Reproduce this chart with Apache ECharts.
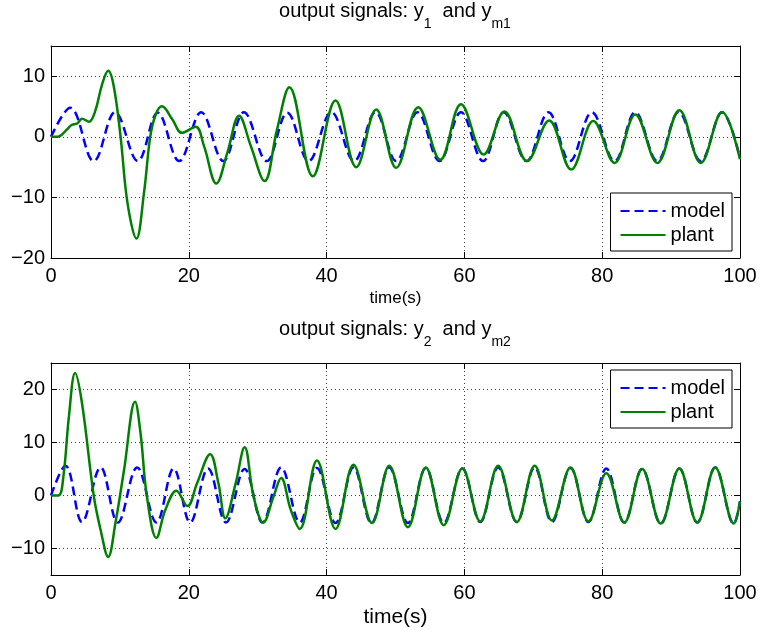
<!DOCTYPE html>
<html><head><meta charset="utf-8">
<script src="https://cdn.jsdelivr.net/npm/echarts@6/dist/echarts.min.js"></script>
<style>html,body{margin:0;padding:0;background:#fff}#c{width:761px;height:630px}</style>
</head><body><div id="c"></div>
<script>
// ---- data ----
const seriesNames = ['model', 'plant'];
const xLabel = 'time(s)';

// top panel: y_m1 (model) and y_1 (plant)
const tModel1 = [0, 2.8, 6.2, 9.3, 12.6, 15.5, 18.6, 21.8, 25.0, 28.0, 31.3, 34.3, 37.4, 40.7, 44.0, 47.1, 50.1, 53.2, 56.4, 59.5, 62.7, 65.7, 69.0, 72.2, 75.3, 78.5, 81.8, 84.8, 88.0, 91.1, 94.3, 97.4, 100];
const yModel1 = [0, 4.8, -4.0, 4.05, -4.0, 4.0, -4.0, 4.05, -4.0, 4.05, -4.0, 4.0, -4.0, 4.05, -4.0, 4.1, -4.0, 4.05, -4.0, 4.05, -4.0, 4.05, -4.0, 4.05, -4.0, 4.05, -4.0, 4.05, -4.0, 4.1, -4.0, 4.05, -3.5];
const tPlant1 = [0, 0.9, 1.6, 2.3, 3.05, 3.8, 4.5, 5.5, 6.4, 7.4, 8.3, 9.1, 10.1, 11.1, 12.4, 13.5, 14.4, 15.2, 16.1, 17.6, 19.0, 21.0, 22.2, 24.0, 25.6, 27.3, 29.0, 31.0, 32.8, 34.6, 38.0, 41.3, 44.3, 47.2, 50.1, 53.3, 56.5, 59.5, 62.8, 65.8, 69.1, 72.3, 75.5, 78.7, 81.8, 84.8, 88.0, 91.2, 94.3, 97.4, 100];
const yPlant1 = [0, 0, 0.4, 1.2, 2.0, 2.2, 3.0, 2.5, 4.2, 8.6, 10.9, 8.4, 0, -10.9, -16.8, -9.2, 0, 3.7, 5.05, 2.9, 0.66, 1.65, -1.5, -7.7, -2.6, 3.5, -1.5, -7.3, 1.2, 8.2, -6.5, 6.0, -5.0, 4.5, -5.1, 4.9, -3.8, 5.4, -2.9, 4.2, -4.0, 2.7, -5.4, 2.6, -4.3, 3.7, -4.3, 4.4, -4.3, 4.1, -3.7];

// bottom panel: y_m2 (model) and y_2 (plant)
const tModel2 = [0, 2.1, 4.5, 7.2, 9.7, 12.5, 15.3, 17.8, 20.2, 22.8, 25.4, 28.1, 30.7, 33.4, 36.1, 38.6, 41.3, 43.9, 46.5, 49.1, 51.8, 54.4, 57.0, 59.7, 62.3, 64.9, 67.6, 70.2, 72.7, 75.4, 78.0, 80.6, 83.2, 85.8, 88.5, 91.2, 93.8, 96.4, 99.1, 100];
const yModel2 = [0, 5.6, -5.0, 5.3, -5.1, 5.3, -5.1, 5.1, -5.1, 5.1, -5.1, 5.0, -5.1, 5.3, -5.1, 5.2, -5.2, 5.3, -5.2, 5.3, -5.2, 5.2, -5.2, 5.1, -5.0, 5.3, -5.0, 5.3, -5.0, 5.2, -5.0, 5.1, -5.1, 5.0, -5.3, 5.1, -5.1, 5.3, -5.3, -1.1];
const tPlant2 = [0, 1.1, 1.8, 2.6, 3.5, 4.5, 6.2, 7.2, 8.3, 9.35, 10.6, 12.2, 13.0, 13.9, 15.3, 16.6, 18.2, 19.8, 21.2, 23.1, 24.3, 25.3, 26.8, 28.1, 29.4, 30.8, 32.3, 33.4, 34.8, 36.1, 38.6, 41.3, 43.9, 46.6, 49.1, 51.8, 54.4, 57.0, 59.7, 62.3, 64.9, 67.6, 70.2, 72.7, 75.4, 78.0, 80.6, 83.2, 85.8, 88.5, 91.2, 93.8, 96.4, 99.1, 100];
const yPlant2 = [0, 0, 3.6, 14.9, 23.1, 17.4, 0, -6.5, -11.6, -5.2, 4.8, 17.7, 11.7, 0, -8.0, -2.7, 0.9, -2.0, 2.3, 7.8, 2.3, -4.3, 2.3, 9.1, -0.2, -5.1, -0.2, 3.3, -2.7, -6.3, 6.6, -6.3, 5.8, -5.2, 5.6, -6.0, 5.3, -5.6, 5.1, -4.9, 5.6, -5.0, 5.6, -4.7, 5.3, -4.9, 4.2, -5.1, 5.0, -5.3, 5.1, -5.1, 5.3, -5.3, -1.1];

// axis ranges / ticks
const xRange = [0, 100], xStep = 20;
const y1Range = [-20, 15], y1Step = 10;
const y2Range = [-15, 25];

// ---- chart ----
const F = 'Liberation Sans, Arial, Helvetica, sans-serif';
const BLUE = '#0000ff', GREEN = '#008000';
const pairs = (t, y) => t.map((v, i) => [v, y[i]]);
const minus = v => String(v).replace('-', '\u2212');

const gridLine = { show: true, lineStyle: { color: '#444', width: 1, type: [1, 3] } };
const frame = { show: true, onZero: false, lineStyle: { color: '#000', width: 1 } };
const tick = { show: true, inside: true, length: 6, lineStyle: { color: '#000', width: 1 } };

function xAxes(gridIndex, nameSize) {
  return [
    { type: 'value', gridIndex, position: 'bottom', min: xRange[0], max: xRange[1], interval: xStep,
      axisLine: frame, axisTick: tick, splitLine: gridLine,
      axisLabel: { color: '#000', fontSize: 20, fontFamily: F, margin: 8 },
      name: xLabel, nameLocation: 'middle', nameGap: 32,
      nameTextStyle: { color: '#000', fontSize: nameSize, fontFamily: F } },
    { type: 'value', gridIndex, position: 'top', min: xRange[0], max: xRange[1], interval: xStep,
      axisLine: frame, axisTick: tick, splitLine: { show: false }, axisLabel: { show: false } }
  ];
}
function yAxes(gridIndex, range, step) {
  const base = { type: 'value', gridIndex, min: range[0], max: range[1] };
  if (step) base.interval = step; else base.splitNumber = 4;
  return [
    Object.assign({}, base, { position: 'left', axisLine: frame, axisTick: tick, splitLine: gridLine,
      axisLabel: { color: '#000', fontSize: 20, fontFamily: F, margin: 6, formatter: minus,
        showMinLabel: step ? true : false, showMaxLabel: false } }),
    Object.assign({}, base, { position: 'right', axisLine: frame, axisTick: tick,
      splitLine: { show: false }, axisLabel: { show: false } })
  ];
}
function line(name, x, y, data, color, dashed, z) {
  return { name, type: 'line', xAxisIndex: x, yAxisIndex: y, data, showSymbol: false, symbol: 'none',
    smooth: 0.38, z,
    lineStyle: { color, width: 2.5, type: dashed ? [9, 5] : 'solid' }, itemStyle: { color } };
}
const rich = {
  a: { fontSize: 20, fontWeight: 'normal', fontFamily: F, color: '#000', lineHeight: 24, verticalAlign: 'top' },
  s: { fontSize: 14, fontWeight: 'normal', fontFamily: F, color: '#000', lineHeight: 14, verticalAlign: 'top', padding: [16, 0, 0, 0] }
};
function legend(top) {
  return { top, right: 29, orient: 'vertical', itemWidth: 45, itemHeight: 14, itemGap: 0,
    padding: [6, 7, 4, 9], borderColor: '#000', borderWidth: 1, backgroundColor: '#fff',
    selectedMode: false, data: seriesNames,
    itemStyle: { color: 'rgba(0,0,0,0)', borderColor: 'rgba(0,0,0,0)', borderWidth: 0, opacity: 0 },
    textStyle: { fontSize: 20, fontFamily: F, color: '#000', lineHeight: 24 } };
}

const chart = echarts.init(document.getElementById('c'), null, { renderer: 'canvas' });
chart.setOption({
  animation: false,
  backgroundColor: '#fff',
  title: [
    { text: '{a|output signals: y}{s|1}{a|  and y}{s|m1}', left: 395, textAlign: 'center', top: 1, padding: 0,
      textStyle: { fontWeight: 'normal', rich } },
    { text: '{a|output signals: y}{s|2}{a|  and y}{s|m2}', left: 395, textAlign: 'center', top: 319, padding: 0,
      textStyle: { fontWeight: 'normal', rich } }
  ],
  grid: [
    { left: 51, right: 21, top: 46, height: 212 },
    { left: 51, right: 21, top: 363, height: 212 }
  ],
  xAxis: [...xAxes(0, 17), ...xAxes(1, 21)],
  yAxis: [...yAxes(0, y1Range, y1Step), ...yAxes(1, y2Range, null)],
  legend: [legend(193), legend(370)],
  series: [
    line(seriesNames[0], 0, 0, pairs(tModel1, yModel1), BLUE, true, 2),
    line(seriesNames[1], 0, 0, pairs(tPlant1, yPlant1), GREEN, false, 3),
    line(seriesNames[0], 2, 2, pairs(tModel2, yModel2), BLUE, true, 2),
    line(seriesNames[1], 2, 2, pairs(tPlant2, yPlant2), GREEN, false, 3)
  ]
});
</script></body></html>
